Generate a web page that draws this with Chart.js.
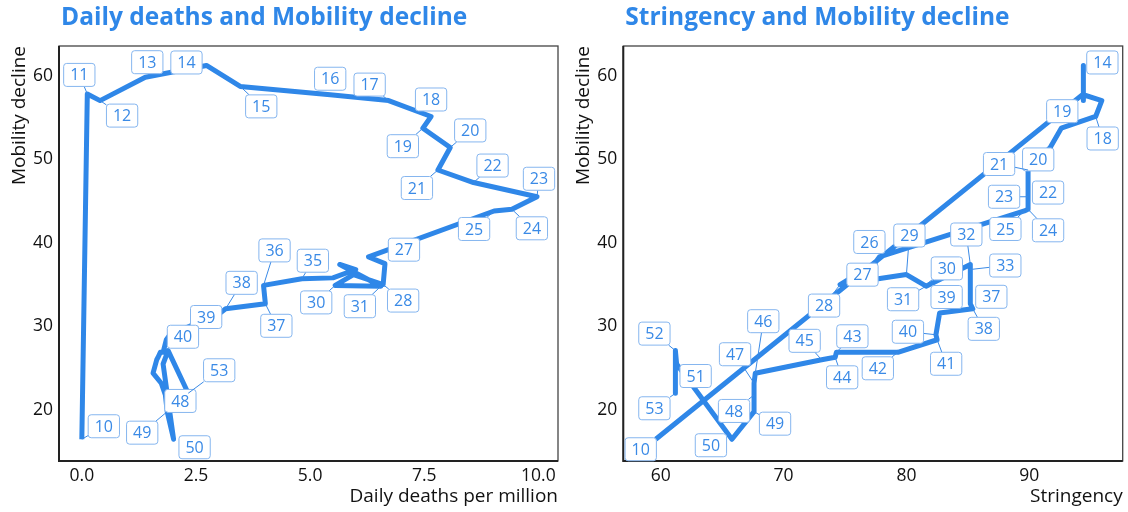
<!DOCTYPE html>
<html>
<head>
<meta charset="utf-8">
<script src="https://cdn.jsdelivr.net/npm/chart.js@4.4.1/dist/chart.umd.min.js"></script>
<style>
  body { margin: 0; background: #fff; }
  #contenedor { position: relative; width: 1128px; height: 512px; }
  #contenedor canvas { position: absolute; top: 0; }
  #grafico1 { left: 0; }
  #grafico2 { left: 564px; }
</style>
</head>
<body>
<div id="contenedor">
  <canvas id="grafico1" width="564" height="512"></canvas>
  <canvas id="grafico2" width="564" height="512"></canvas>
</div>
<script>
// Semanas del año y sus valores
const semanas = [10, 11, 12, 13, 14, 15, 16, 17, 18, 19, 20, 21, 22, 23, 24, 25, 26, 27, 28, 29, 30, 31,
                 32, 33, 34, 35, 36, 37, 38, 39, 40, 41, 42, 43, 44, 45, 46, 47, 48, 49, 50, 51, 52, 53];

const movilidad = [16.5, 57.8, 57.0, 59.8, 61.2, 58.7, 57.7, 57.0, 55.1, 53.7, 51.4, 48.7, 47.2, 45.5, 44.0, 43.8,
                   38.3, 37.5, 35.0, 36.2, 34.9, 34.8, 37.4, 36.8, 35.8, 35.7, 34.9, 32.7, 32.1, 31.6, 29.0, 28.4,
                   26.9, 26.9, 26.3, 26.0, 24.4, 23.2, 21.8, 19.8, 16.5, 25.5, 27.1, 22.0];

const muertes = [0.00, 0.12, 0.40, 1.39, 2.73, 3.47, 5.44, 6.72, 7.65, 7.47, 8.07, 7.80, 8.58, 9.97, 9.42, 9.03,
                 6.28, 6.64, 6.60, 5.95, 5.55, 6.55, 5.65, 6.00, 5.50, 4.82, 3.98, 4.02, 3.15, 3.03, 1.93, 1.85,
                 1.78, 1.72, 1.67, 1.64, 1.56, 1.74, 1.83, 1.87, 2.01, 1.78, 1.89, 2.33];

const rigurosidad = [59.6, 94.4, 94.4, 94.4, 94.4, 94.4, 94.4, 95.9, 95.4, 92.6, 91.7, 89.9, 89.9, 89.9, 89.9, 89.6,
                     77.8, 77.4, 74.6, 80.0, 81.5, 81.6, 85.2, 85.2, 85.2, 85.2, 85.2, 85.2, 85.4, 82.7, 82.4, 82.5,
                     79.3, 74.3, 74.2, 73.1, 67.7, 67.6, 67.6, 67.6, 65.8, 61.3, 61.2, 61.2];

const ticksMuertes = [0, 2.5, 5, 7.5, 10];
const ticksRigurosidad = [60, 70, 80, 90];
const ticksMovilidad = [20, 30, 40, 50, 60];

// Donde va cada etiqueta respecto a su punto (px)
const etiquetasMuertes = {
  10: [22, -13], 11: [-8, -19], 12: [22, 15], 13: [2, -15], 14: [-20, -3], 15: [21, 20], 16: [0, -16],
  17: [-19, -16], 18: [0, -17], 19: [-20, 18], 20: [20, -17], 21: [-21, 18], 22: [19, -17], 23: [2, -18],
  24: [20, 19], 25: [-20, 18], 27: [19, -14], 28: [20, 16], 30: [-19, 17], 31: [-21, 20], 35: [11, -18],
  36: [11, -35], 37: [11, 22], 38: [16, -26], 39: [-14, 4], 40: [13, 2], 48: [15, 6], 49: [-25, 21],
  50: [21, 8], 53: [31, -23]
};

const etiquetasRigurosidad = {
  10: [-15, 10], 14: [19, -3], 18: [7, 22], 19: [1, -17], 20: [-12, 12], 21: [-29, -6], 22: [20, 10],
  23: [-24, 0], 24: [20, 21], 25: [-19, 18], 26: [-10, -15], 27: [-12, 11], 28: [-16, 21], 29: [3, -39],
  30: [22, -17], 31: [-23, 13], 32: [-4, -30], 33: [35, -4], 37: [21, -7], 38: [11, 20], 39: [7, -16],
  40: [-28, -3], 41: [9, 24], 42: [-20, 16], 43: [16, -16], 44: [7, 20], 45: [-17, -19], 46: [8, -52],
  47: [-19, -29], 48: [-20, 16], 49: [21, 12], 50: [-21, 6], 51: [19, 12], 52: [-21, -17], 53: [-21, 15]
};

const AZUL = '#2f87e8';
const TEXTO = '#111';
const FUENTE = '"Open Sans", "Noto Sans", sans-serif';

// Cajas con el número de semana, marco del panel y título
const pluginSemanas = {
  id: 'semanas',
  afterDatasetsDraw(chart, args, opts) {
    const { ctx, chartArea } = chart;
    const puntos = chart.getDatasetMeta(0).data;

    // marco
    ctx.save();
    ctx.strokeStyle = '#444';
    ctx.lineWidth = 1.3;
    ctx.strokeRect(chartArea.left, chartArea.top, chartArea.right - chartArea.left, chartArea.bottom - chartArea.top);
    ctx.strokeStyle = '#222';
    ctx.lineWidth = 2;
    ctx.beginPath();
    ctx.moveTo(chartArea.left, chartArea.top);
    ctx.lineTo(chartArea.left, chartArea.bottom);
    ctx.lineTo(chartArea.right, chartArea.bottom);
    ctx.stroke();
    ctx.restore();

    ctx.save();
    ctx.font = '16px ' + FUENTE;
    ctx.textAlign = 'center';
    ctx.textBaseline = 'middle';
    semanas.forEach((sem, i) => {
      const off = opts.desplazamientos[sem];
      if (!off) return;
      const p = puntos[i];
      const cx = p.x + off[0];
      const cy = p.y + off[1];
      const texto = String(sem);
      const w = ctx.measureText(texto).width + 13;
      const h = 23;

      // segmento hasta el borde de la caja
      const dx = p.x - cx;
      const dy = p.y - cy;
      const tx = dx !== 0 ? (w / 2) / Math.abs(dx) : Infinity;
      const ty = dy !== 0 ? (h / 2) / Math.abs(dy) : Infinity;
      const t = Math.min(tx, ty);
      if (t < 1) {
        const bx = cx + dx * t;
        const by = cy + dy * t;
        if (Math.hypot(p.x - bx, p.y - by) > 6) {
          ctx.strokeStyle = '#3a8ae6';
          ctx.lineWidth = 1;
          ctx.beginPath();
          ctx.moveTo(p.x, p.y);
          ctx.lineTo(bx, by);
          ctx.stroke();
        }
      }

      ctx.fillStyle = '#fff';
      ctx.strokeStyle = '#86b6ef';
      ctx.lineWidth = 1;
      ctx.beginPath();
      ctx.roundRect(cx - w / 2, cy - h / 2, w, h, 3);
      ctx.fill();
      ctx.stroke();
      ctx.fillStyle = '#3a8ae6';
      ctx.fillText(texto, cx, cy + 1);
    });
    ctx.restore();

    ctx.save();
    ctx.font = 'bold 24.5px ' + FUENTE;
    ctx.fillStyle = AZUL;
    ctx.textAlign = 'left';
    ctx.textBaseline = 'middle';
    ctx.fillText(opts.titulo, chartArea.left + 2, 18);
    ctx.restore();
  }
};

function crearGrafica(id, valoresX, rangoX, ticksX, formatoX, tituloX, titulo, desplazamientos, padDerecha, anchoY) {
  const ctx = document.getElementById(id).getContext('2d');
  return new Chart(ctx, {
    type: 'scatter',
    data: {
      datasets: [{
        data: semanas.map((s, i) => ({ x: valoresX[i], y: movilidad[i] })),
        showLine: true,
        borderColor: AZUL,
        backgroundColor: AZUL,
        borderWidth: 5,
        borderJoinStyle: 'round',
        borderCapStyle: 'butt',
        pointRadius: 0,
        pointHoverRadius: 0,
        tension: 0
      }]
    },
    options: {
      responsive: false,
      animation: false,
      devicePixelRatio: 1,
      layout: { padding: { top: 46, right: padDerecha, left: 0, bottom: 0 } },
      plugins: {
        legend: { display: false },
        tooltip: { enabled: false },
        semanas: { desplazamientos: desplazamientos, titulo: titulo }
      },
      scales: {
        x: {
          type: 'linear',
          min: rangoX[0],
          max: rangoX[1],
          grid: { display: false, drawTicks: false },
          border: { display: false },
          afterBuildTicks: s => { s.ticks = ticksX.map(v => ({ value: v })); },
          afterFit: s => { s.height = 51; },
          ticks: {
            color: TEXTO,
            font: { family: FUENTE, size: 17.5 },
            padding: 5,
            maxRotation: 0,
            autoSkip: false,
            callback: v => formatoX(v)
          },
          title: {
            display: true,
            text: tituloX,
            align: 'end',
            color: TEXTO,
            font: { family: FUENTE, size: 19 },
            padding: { top: 0, bottom: 4 }
          }
        },
        y: {
          type: 'linear',
          min: 13.9,
          max: 63.53,
          grid: { display: false, drawTicks: false },
          border: { display: false },
          afterBuildTicks: s => { s.ticks = ticksMovilidad.map(v => ({ value: v })); },
          afterFit: s => { s.width = anchoY; },
          ticks: {
            color: TEXTO,
            font: { family: FUENTE, size: 17.5 },
            padding: 6,
            callback: v => String(v)
          },
          title: {
            display: true,
            text: 'Mobility decline',
            align: 'end',
            color: TEXTO,
            font: { family: FUENTE, size: 19 },
            padding: { top: 8, bottom: 0 }
          }
        }
      }
    },
    plugins: [pluginSemanas]
  });
}

window.graficaMuertes = crearGrafica('grafico1', muertes, [-0.5, 10.43], ticksMuertes, v => Number(v).toFixed(1),
  'Daily deaths per million', 'Daily deaths and Mobility decline', etiquetasMuertes, 6, 59);

window.graficaRigurosidad = crearGrafica('grafico2', rigurosidad, [56.96, 97.6], ticksRigurosidad, v => String(v),
  'Stringency', 'Stringency and Mobility decline', etiquetasRigurosidad, 5.3, 59.3);
</script>
</body>
</html>
